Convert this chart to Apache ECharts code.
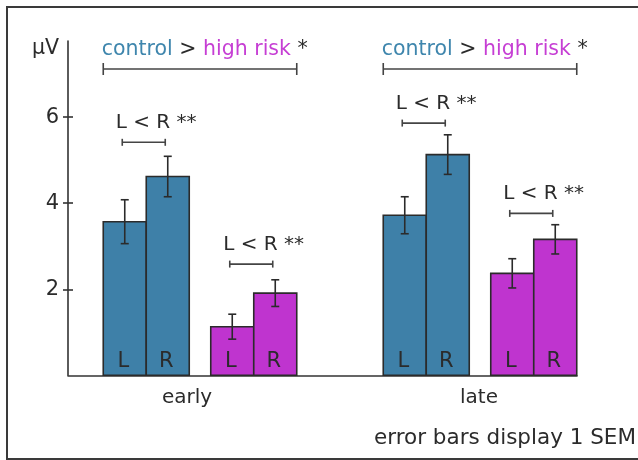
<!DOCTYPE html>
<html><head><meta charset="utf-8">
<script src="https://cdn.jsdelivr.net/npm/echarts@6/dist/echarts.min.js"></script>
<style>html,body{margin:0;padding:0;background:#fff}#c{width:638px;height:460px}</style>
</head><body><div id="c"></div>
<script>
// ---- data ----
const categories = ['early', 'late'];
const controlL = [3.57, 3.72];
const controlLErr = [0.51, 0.43];
const controlR = [4.62, 5.13];
const controlRErr = [0.47, 0.46];
const riskL = [1.13, 2.37];
const riskLErr = [0.29, 0.34];
const riskR = [1.91, 3.16];
const riskRErr = [0.31, 0.34];
const yTicks = [2, 4, 6];
const yMax = 7.77;
const groupSigText = ['control', '>', 'high risk', '*'];
const pairSigText = 'L < R **';
const footnote = 'error bars display 1 SEM';
const unitLabel = 'µV';

// ---- layout / style ----
const FONT = 'DejaVu Sans';
const BLUE = '#3e80a8', MAG = '#bf34cf', INK = '#2b2b2b', AXIS = '#333';
const BAR_W = 43, MID_GAP = 21.5;
const slots = [-MID_GAP / 2 - 2 * BAR_W, -MID_GAP / 2 - BAR_W, MID_GAP / 2, MID_GAP / 2 + BAR_W];
const sigLift = [[14, 15.7], [11.7, 11.3]];
const GRID_TOP = 41, GRID_BOTTOM = 84.7;

function barSeries(name, vals, errs, slot, color, letter) {
  return {
    type: 'custom', name, xAxisIndex: 0, yAxisIndex: 0, z: 5,
    data: categories.map((c, i) => [i, vals[i], errs[i]]),
    renderItem(params, api) {
      const i = api.value(0), v = api.value(1), e = api.value(2);
      const base = api.coord([i, 0]);
      const top = api.coord([i, v])[1];
      const eT = api.coord([i, v + e])[1];
      const eB = api.coord([i, v - e])[1];
      const x0 = base[0] + slots[slot];
      const cx = x0 + BAR_W / 2;
      const ls = { stroke: INK, lineWidth: 1.6 };
      return { type: 'group', children: [
        { type: 'rect', shape: { x: x0, y: top, width: BAR_W, height: base[1] - top },
          style: { fill: color, stroke: INK, lineWidth: 1.6 } },
        { type: 'line', shape: { x1: cx, y1: eT, x2: cx, y2: eB }, style: ls },
        { type: 'line', shape: { x1: cx - 4, y1: eT, x2: cx + 4, y2: eT }, style: ls },
        { type: 'line', shape: { x1: cx - 4, y1: eB, x2: cx + 4, y2: eB }, style: ls },
        { type: 'text', x: cx - 1.5, y: base[1] - 14,
          style: { text: letter, font: '21px "' + FONT + '"', fill: INK, align: 'center', verticalAlign: 'middle' } }
      ]};
    }
  };
}

const pairs = [
  { L: controlL, LE: controlLErr, R: controlR, RE: controlRErr, slot: 0 },
  { L: riskL, LE: riskLErr, R: riskR, RE: riskRErr, slot: 2 }
];

const sigSeries = {
  type: 'custom', name: 'pairSig', xAxisIndex: 0, yAxisIndex: 0, z: 6,
  data: categories.flatMap((c, i) => pairs.map((p, k) => [i, Math.max(p.L[i] + p.LE[i], p.R[i] + p.RE[i]), k])),
  renderItem(params, api) {
    const i = api.value(0), hi = api.value(1), k = api.value(2);
    const base = api.coord([i, 0]);
    const y = api.coord([i, hi])[1] - sigLift[i][k];
    const s = pairs[k].slot;
    const xa = base[0] + slots[s] + BAR_W / 2 - 2.5;
    const xb = xa + BAR_W;
    const ls = { stroke: '#444', lineWidth: 1.6 };
    return { type: 'group', children: [
      { type: 'line', shape: { x1: xa, y1: y, x2: xb, y2: y }, style: ls },
      { type: 'line', shape: { x1: xa, y1: y - 3.5, x2: xa, y2: y + 3.5 }, style: ls },
      { type: 'line', shape: { x1: xb, y1: y - 3.5, x2: xb, y2: y + 3.5 }, style: ls },
      { type: 'text', x: xa - 6.5, y: y - 13.2 - 6,
        style: { text: pairSigText, font: '20px "' + FONT + '"', fill: INK, align: 'left', verticalAlign: 'middle' } }
    ]};
  }
};

const groupSigSeries = {
  type: 'custom', name: 'groupSig', xAxisIndex: 0, yAxisIndex: 0, z: 6,
  data: categories.map((c, i) => [i, 0]),
  renderItem(params, api) {
    const i = api.value(0);
    const base = api.coord([i, 0]);
    const xa = base[0] + slots[0];
    const xb = base[0] + slots[3] + BAR_W;
    const y = GRID_TOP + 28;
    const ls = { stroke: '#444', lineWidth: 1.6 };
    return { type: 'group', children: [
      { type: 'line', shape: { x1: xa, y1: y, x2: xb, y2: y }, style: ls },
      { type: 'line', shape: { x1: xa, y1: y - 6, x2: xa, y2: y + 6 }, style: ls },
      { type: 'line', shape: { x1: xb, y1: y - 6, x2: xb, y2: y + 6 }, style: ls },
      { type: 'text', x: xa - 1.5, y: GRID_TOP + 8.5,
        style: {
          text: '{c|' + groupSigText[0] + '} {g|' + groupSigText[1] + '} {h|' + groupSigText[2] + '} {g|' + groupSigText[3] + '}',
          font: '20.5px "' + FONT + '"', align: 'left', verticalAlign: 'middle',
          rich: {
            c: { fill: '#3f86ad', font: '20.5px "' + FONT + '"' },
            h: { fill: '#c63ed4', font: '20.5px "' + FONT + '"' },
            g: { fill: INK, font: '20.5px "' + FONT + '"' }
          }
        } }
    ]};
  }
};

const option = {
  animation: false,
  backgroundColor: '#fff',
  textStyle: { fontFamily: FONT },
  grid: [
    { left: 60, right: 18, top: GRID_TOP, bottom: GRID_BOTTOM },
    { left: 68, right: 61, top: GRID_TOP, bottom: GRID_BOTTOM }
  ],
  xAxis: [
    { type: 'category', gridIndex: 0, data: categories,
      axisLine: { show: false }, axisTick: { show: false },
      axisLabel: { margin: 12, fontSize: 20, color: INK, fontFamily: FONT,
        formatter: v => v === categories[0] ? '{e|' + v + '}' : '{l|' + v + '}',
        rich: { e: { fontSize: 20, fontFamily: FONT, color: INK, padding: [0, 26, 0, 0] },
                l: { fontSize: 20, fontFamily: FONT, color: INK, padding: [0, 2, 0, 0] } } } },
    { type: 'value', gridIndex: 1, min: 0, max: 1,
      axisLine: { show: true, lineStyle: { color: AXIS, width: 1.6 } },
      axisTick: { show: false }, axisLabel: { show: false }, splitLine: { show: false } }
  ],
  yAxis: [
    { type: 'value', gridIndex: 0, min: 0, max: yMax, show: false },
    { type: 'value', gridIndex: 1, min: 0, max: yMax, interval: 2, position: 'left',
      axisLine: { show: true, lineStyle: { color: AXIS, width: 1.6 } },
      axisTick: { show: true, length: 5, customValues: yTicks, lineStyle: { color: AXIS, width: 1.6 } },
      axisLabel: { show: true, customValues: yTicks, margin: 9, fontSize: 21, color: INK, fontFamily: FONT },
      splitLine: { show: false } },
    { type: 'value', gridIndex: 1, min: 0, max: yMax, interval: 2, position: 'left',
      axisLine: { show: false },
      axisTick: { show: true, inside: true, length: 5, customValues: yTicks, lineStyle: { color: AXIS, width: 1.6 } },
      axisLabel: { show: false }, splitLine: { show: false } }
  ],
  graphic: [
    { type: 'rect', shape: { x: 7, y: 7, width: 660, height: 452 },
      style: { fill: 'none', stroke: '#3a3a3a', lineWidth: 2 }, z: 0 },
    { type: 'text', left: 32, top: 38,
      style: { text: unitLabel, font: '20.5px "' + FONT + '"', fill: INK } },
    { type: 'text', right: 2, top: 427,
      style: { text: footnote, font: '21.5px "' + FONT + '"', fill: INK } }
  ],
  series: [
    barSeries('control L', controlL, controlLErr, 0, BLUE, 'L'),
    barSeries('control R', controlR, controlRErr, 1, BLUE, 'R'),
    barSeries('high risk L', riskL, riskLErr, 2, MAG, 'L'),
    barSeries('high risk R', riskR, riskRErr, 3, MAG, 'R'),
    sigSeries,
    groupSigSeries
  ]
};

const chart = echarts.init(document.getElementById('c'), null, { renderer: 'canvas' });
chart.setOption(option);
</script>
</body></html>
